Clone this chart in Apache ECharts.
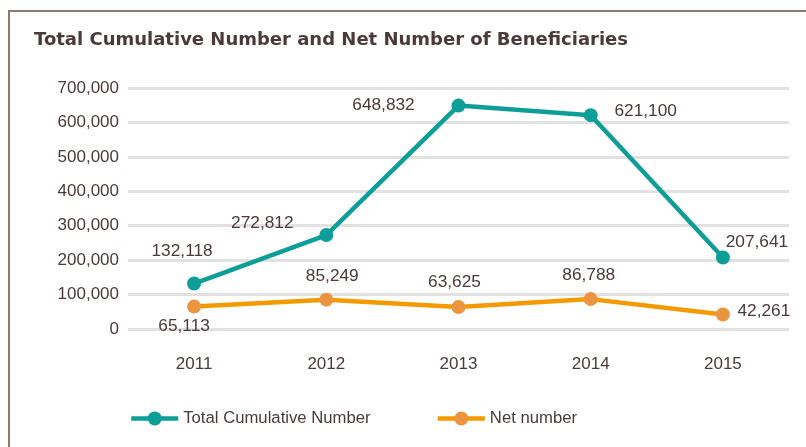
<!DOCTYPE html>
<html>
<head>
<meta charset="utf-8">
<script src="https://cdn.jsdelivr.net/npm/echarts@6/dist/echarts.min.js"></script>
<style>
  html, body { margin: 0; padding: 0; background: #fff; }
  #chart { width: 806px; height: 447px; }
</style>
</head>
<body>
<div id="chart"></div>
<script>
// Beneficiary counts per year
const years = ['2011', '2012', '2013', '2014', '2015'];
const totalCumulative = [132118, 272812, 648832, 621100, 207641];
const netNumber = [65113, 85249, 63625, 86788, 42261];
const yTicks = [0, 100000, 200000, 300000, 400000, 500000, 600000, 700000];

const TEXT = '#4b3a3b';
const TEAL = '#0e9e98';
const ORANGE = '#f39a00';
const ORANGE_DOT = '#ec9540';
const FONT = '"Liberation Sans", Arial, sans-serif';
const TITLE_FONT = '"DejaVu Sans", sans-serif';

const fmt = v => v.toLocaleString('en-US');

// Per-point label nudges (pixels from the marker centre)
const totalLabelShift = [[-12, -32], [-64, -12], [-75, 0], [55, -4], [34, -15]];
const netLabelShift = [[-10, 20], [6, -23], [-4, -25], [-2, -24], [41, -3]];

function withLabels(values, shifts) {
  return values.map((v, i) => ({
    value: v,
    label: { offset: shifts[i] }
  }));
}

const labelBase = {
  show: true,
  position: 'inside',
  align: 'center',
  verticalAlign: 'middle',
  color: TEXT,
  fontSize: 17.3,
  fontFamily: FONT,
  formatter: p => fmt(p.value)
};

const chart = echarts.init(document.getElementById('chart'), null, { renderer: 'canvas' });

chart.setOption({
  animation: false,
  backgroundColor: '#fff',
  title: {
    text: 'Total Cumulative Number and Net Number of Beneficiaries',
    left: 34,
    top: 31,
    padding: 0,
    textStyle: { color: TEXT, fontSize: 18, fontWeight: 'bold', fontFamily: TITLE_FONT }
  },
  graphic: [{
    type: 'polyline',
    shape: { points: [[9, 447], [9, 11], [806, 11]] },
    style: { stroke: '#8b7b77', lineWidth: 2, fill: null },
    silent: true
  }],
  legend: {
    left: 129,
    top: 410,
    padding: 0,
    itemWidth: 47,
    itemHeight: 17.5,
    itemGap: 65,
    lineStyle: { width: 4.5 },
    textStyle: { color: TEXT, fontSize: 16.7, fontFamily: FONT },
    data: ['Total Cumulative Number', 'Net number']
  },
  grid: { left: 128, right: 17, top: 88, bottom: 118, containLabel: false },
  xAxis: {
    type: 'category',
    data: years,
    boundaryGap: true,
    axisLine: { show: false },
    axisTick: { show: false },
    axisLabel: { color: TEXT, fontSize: 17, fontFamily: FONT, margin: 27 }
  },
  yAxis: {
    type: 'value',
    min: yTicks[0],
    max: yTicks[yTicks.length - 1],
    interval: yTicks[1] - yTicks[0],
    axisLine: { show: false },
    axisTick: { show: false },
    splitLine: { lineStyle: { color: '#e2e0e0', width: 3 } },
    axisLabel: { color: TEXT, fontSize: 17, fontFamily: FONT, margin: 9, formatter: v => fmt(v) }
  },
  series: [
    {
      name: 'Total Cumulative Number',
      type: 'line',
      data: withLabels(totalCumulative, totalLabelShift),
      symbol: 'circle',
      symbolSize: 14,
      lineStyle: { color: TEAL, width: 4.5 },
      itemStyle: { color: TEAL },
      label: labelBase,
      z: 3
    },
    {
      name: 'Net number',
      type: 'line',
      data: withLabels(netNumber, netLabelShift),
      symbol: 'circle',
      symbolSize: 14,
      lineStyle: { color: ORANGE, width: 4.5 },
      itemStyle: { color: ORANGE_DOT },
      label: labelBase,
      z: 2
    }
  ]
});
</script>
</body>
</html>
